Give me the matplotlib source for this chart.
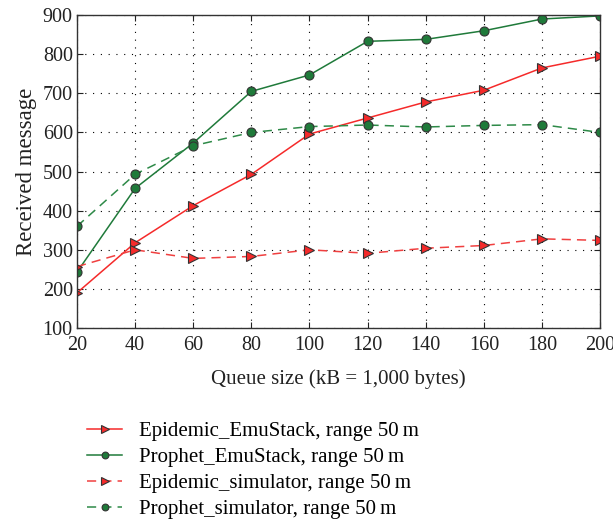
import matplotlib
matplotlib.use("Agg")
import matplotlib.pyplot as plt

plt.rcParams["font.family"] = ["Liberation Serif", "DejaVu Serif"]

# -- data -------------------------------------------------------------------
queue_kb = [20, 40, 60, 80, 100, 120, 140, 160, 180, 200]
epidemic_emu = [190, 318, 413, 493, 596, 637, 678, 708, 765, 795]
prophet_emu = [243, 457, 573, 705, 747, 833, 838, 860, 890, 898]
epidemic_sim = [257, 300, 278, 283, 300, 291, 304, 311, 328, 324]
prophet_sim = [360, 493, 566, 600, 615, 619, 614, 618, 620, 600]

labels = [
    "Epidemic_EmuStack, range 50\u2009m",
    "Prophet_EmuStack, range 50\u2009m",
    "Epidemic_simulator, range 50\u2009m",
    "Prophet_simulator, range 50\u2009m",
]

RED = "#f52a2a"
GREEN = "#1f7a3a"
RED_D = "#f04040"
GREEN_D = "#2e8a48"
EDGE = "#333333"
TXT = "#222222"

fig = plt.figure(figsize=(6.13, 5.21), dpi=100)
ax = fig.add_axes([0.1256, 0.3704, 0.8534, 0.6006])

ax.plot(queue_kb, epidemic_emu, "-", color=RED, lw=1.1, marker=">",
        ms=7, mfc=RED, mec=EDGE, mew=0.8, label=labels[0])
ax.plot(queue_kb, prophet_emu, "-", color=GREEN, lw=1.1, marker="o",
        ms=6.5, mfc=GREEN, mec=EDGE, mew=0.8, label=labels[1])
ax.plot(queue_kb, epidemic_sim, "--", color=RED_D, lw=1.1, marker=">",
        ms=7, mfc=RED, mec=EDGE, mew=0.8, dashes=(6, 4), label=labels[2])
ax.plot(queue_kb, prophet_sim, "--", color=GREEN_D, lw=1.1, marker="o",
        ms=6.5, mfc=GREEN, mec=EDGE, mew=0.8, dashes=(6, 4), label=labels[3])

ax.set_xlim(20, 200)
ax.set_ylim(100, 900)
ax.set_xticks(queue_kb)
ax.set_yticks(range(100, 901, 100))
ax.grid(True, color="black", linestyle=(0, (1, 6)), linewidth=0.8)
ax.tick_params(direction="in", top=True, right=True, labelsize=14.5,
               length=4, colors=TXT)
ax.tick_params(axis="x", pad=6)
ax.tick_params(axis="y", pad=3)
for s in ax.spines.values():
    s.set_color("#333333")
    s.set_linewidth(1.0)

ax.set_xlabel("Queue size (kB = 1,000 bytes)", fontsize=15, color=TXT,
              labelpad=10)
ax.set_ylabel("Received message", fontsize=16.5, color=TXT, labelpad=4)

handles, labs = ax.get_legend_handles_labels()
fig.legend(handles, labs, loc="upper left", bbox_to_anchor=(0.128, 0.207),
           frameon=False, fontsize=15, handlelength=1.7, handletextpad=0.8,
           labelspacing=0.31, borderaxespad=0, markerscale=0.75)

fig.savefig("out.png", dpi=100)
